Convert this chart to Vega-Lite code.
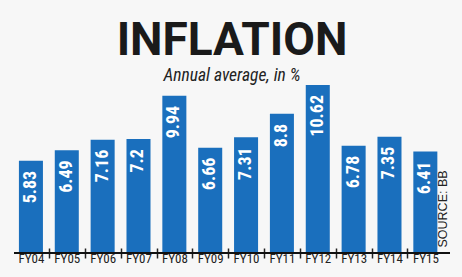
{
  "$schema": "https://vega.github.io/schema/vega-lite/v6.json",
  "width": 436,
  "height": 174,
  "autosize": "none",
  "padding": {"left": 14, "top": 79, "right": 12, "bottom": 24},
  "background": "#f7f7f7",
  "title": {
    "text": "INFLATION",
    "subtitle": "Annual average, in %",
    "anchor": "middle",
    "frame": "group",
    "font": "Roboto",
    "fontSize": 46,
    "fontWeight": "bold",
    "color": "#1a1a1a",
    "subtitleFont": "Roboto Condensed, Roboto",
    "subtitleFontStyle": "italic",
    "subtitleFontSize": 17.5,
    "subtitleColor": "#222222",
    "subtitlePadding": 2,
    "offset": -6
  },
  "data": {
    "values": [
      {"fy": "FY04", "value": 5.83, "label": "5.83"},
      {"fy": "FY05", "value": 6.49, "label": "6.49"},
      {"fy": "FY06", "value": 7.16, "label": "7.16"},
      {"fy": "FY07", "value": 7.2, "label": "7.2"},
      {"fy": "FY08", "value": 9.94, "label": "9.94"},
      {"fy": "FY09", "value": 6.66, "label": "6.66"},
      {"fy": "FY10", "value": 7.31, "label": "7.31"},
      {"fy": "FY11", "value": 8.8, "label": "8.8"},
      {"fy": "FY12", "value": 10.62, "label": "10.62"},
      {"fy": "FY13", "value": 6.78, "label": "6.78"},
      {"fy": "FY14", "value": 7.35, "label": "7.35"},
      {"fy": "FY15", "value": 6.41, "label": "6.41"}
    ]
  },
  "encoding": {
    "x": {
      "field": "fy",
      "type": "nominal",
      "sort": null,
      "scale": {"paddingInner": 0.33, "paddingOuter": 0.245, "align": 0.28},
      "axis": {
        "title": null,
        "orient": "bottom",
        "domain": false,
        "labelAngle": 0,
        "bandPosition": 1,
        "tickOffset": 6,
        "labelOffset": -6,
        "tickSize": 10,
        "tickWidth": 1.5,
        "tickColor": "#222222",
        "tickOpacity": {"condition": {"test": "datum.value === 'FY15'", "value": 0}, "value": 1},
        "offset": -5,
        "labelPadding": -6,
        "labelFont": "Roboto Condensed, Roboto",
        "labelFontSize": 13,
        "labelColor": "#222222"
      }
    }
  },
  "layer": [
    {
      "mark": {"type": "bar", "color": "#1a6fbd"},
      "encoding": {
        "y": {
          "field": "value",
          "type": "quantitative",
          "scale": {"domain": [0, 11], "nice": false},
          "axis": {
            "orient": "right",
            "title": "SOURCE: BB",
            "titleAngle": 270,
            "titleAlign": "left",
            "titleBaseline": "bottom",
            "titleX": -1,
            "titleY": 168,
            "titleFont": "Liberation Sans",
            "titleFontSize": 12.5,
            "titleFontWeight": "normal",
            "titleColor": "#222222",
            "labels": false,
            "ticks": false,
            "domain": false,
            "grid": false
          }
        }
      }
    },
    {
      "mark": {"type": "rule", "color": "#111111", "strokeWidth": 2},
      "encoding": {"y": {"datum": 0, "type": "quantitative"}, "x": null}
    },
    {
      "mark": {
        "type": "text",
        "angle": 270,
        "align": "right",
        "baseline": "middle",
        "dx": -10,
        "color": "white",
        "font": "Roboto Condensed, Roboto",
        "fontWeight": "bold",
        "fontSize": 18
      },
      "encoding": {
        "y": {"field": "value", "type": "quantitative"},
        "text": {"field": "label"}
      }
    }
  ],
  "config": {"view": {"stroke": null}}
}
